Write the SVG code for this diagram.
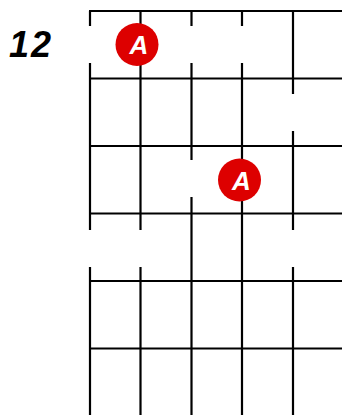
<svg xmlns="http://www.w3.org/2000/svg" width="342" height="415" viewBox="0 0 342 415">
<style>
.g{stroke:#000;stroke-width:2.2;fill:none}
.gap{fill:#fff}
.dot{fill:#dd0000}
.lbl{font-family:"Liberation Sans",Arial,sans-serif;font-weight:bold;font-style:italic;fill:#fff;font-size:26px;text-anchor:middle}
.fret{font-family:"Liberation Sans",Arial,sans-serif;font-weight:bold;font-style:italic;fill:#000;font-size:36px;letter-spacing:2px}
</style>
<rect width="342" height="415" fill="#fff"/>
<g id="grid">
<path class="g" d="M90 11V415M140.5 11V415M191.5 11V415M242 11V415M293 11V415"/>
<path class="g" d="M89 11H342M89 78.5H342M89 146H342M89 213.5H342M89 281H342M89 348.5H342"/>
</g>
<g id="gaps">
<rect class="gap" x="86" y="26" width="8" height="37"/>
<rect class="gap" x="187.5" y="26" width="8" height="37"/>
<rect class="gap" x="238" y="26" width="8" height="37"/>
<rect class="gap" x="289" y="94" width="8" height="37"/>
<rect class="gap" x="187.5" y="160" width="8" height="37"/>
<rect class="gap" x="86" y="230" width="8" height="37"/>
<rect class="gap" x="136.5" y="230" width="8" height="37"/>
<rect class="gap" x="289" y="230" width="8" height="37"/>
</g>
<g id="fret-label"><text class="fret" x="9" y="57">12</text></g>
<g id="note1"><circle class="dot" cx="137" cy="44.5" r="21.5"/><text class="lbl" x="139" y="54">A</text></g>
<g id="note2"><circle class="dot" cx="239.5" cy="180" r="21.5"/><text class="lbl" x="241.5" y="189.5">A</text></g>
</svg>
